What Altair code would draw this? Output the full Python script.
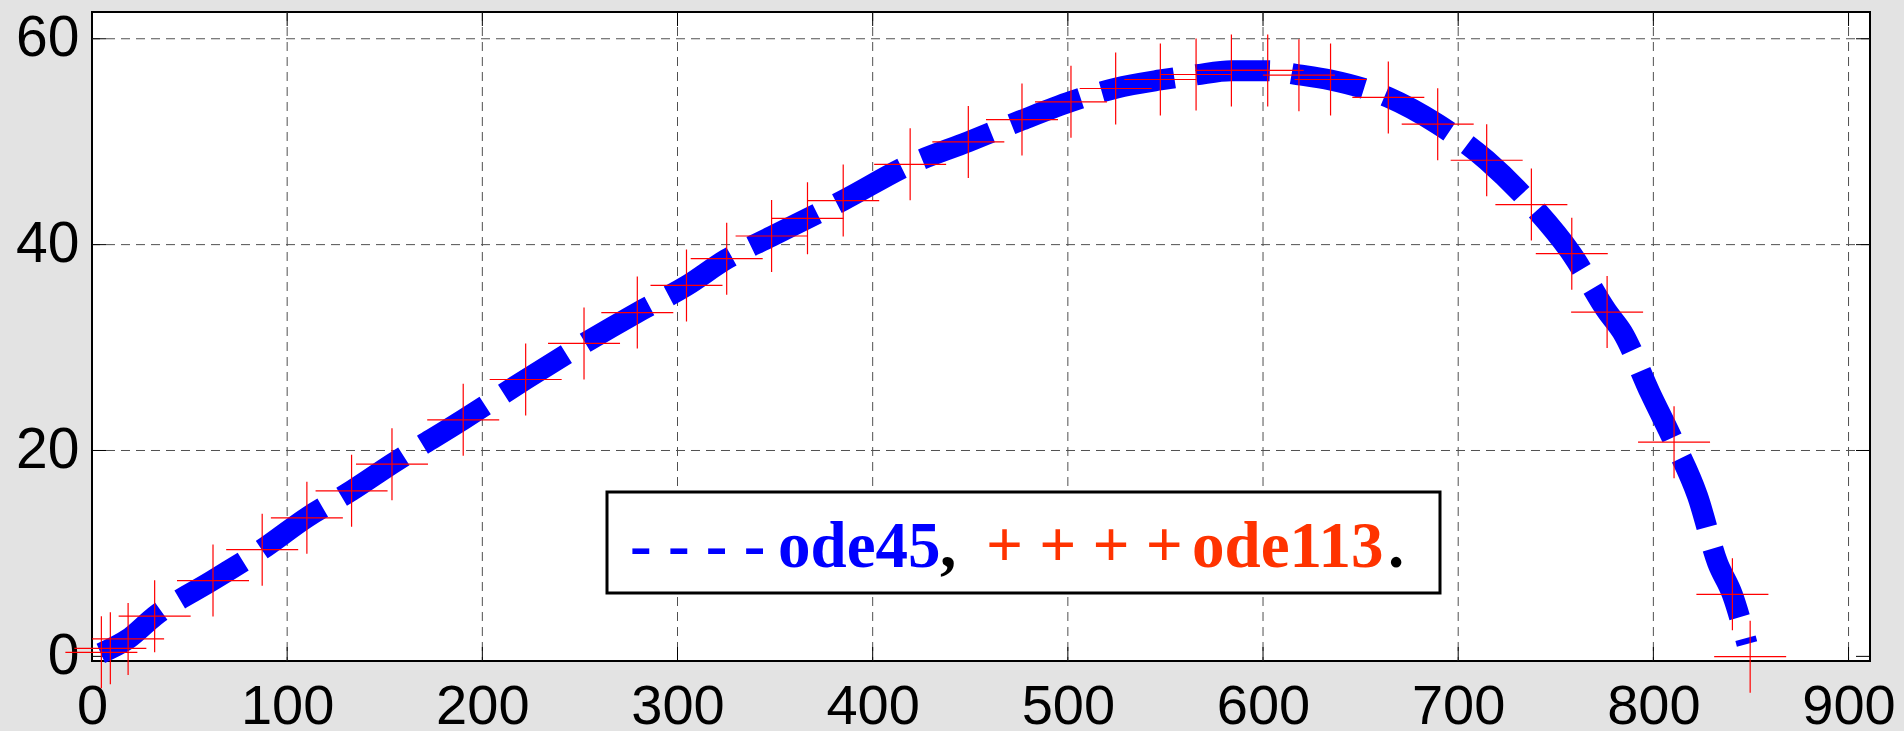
import altair as alt
import pandas as pd

# ---- data ----
ode113_x = [4.8, 9.4, 18.5, 32.1, 62.0, 87.2, 110.1, 133.0, 153.7, 190.2,
            222.2, 252.1, 279.4, 304.6, 325.2, 348.2, 366.6, 384.9, 419.2, 449.0,
            476.5, 501.6, 524.5, 547.4, 565.7, 583.8, 602.4, 618.4, 634.6, 664.2,
            689.5, 714.6, 737.5, 758.2, 776.3, 810.6, 840.5, 849.6]
ode113_y = [0.39, 0.78, 1.69, 3.9, 7.36, 10.37, 13.46, 16.08, 18.67, 22.98,
            26.9, 30.4, 33.4, 36.04, 38.64, 40.84, 42.56, 44.28, 47.8, 49.98,
            52.15, 53.87, 55.17, 56.04, 56.53, 56.92, 56.92, 56.46, 56.04, 54.3,
            51.7, 48.2, 43.89, 39.12, 33.45, 20.81, 6.03, -0.03]

ode45_x = [4.5, 18.5, 32.1, 62.0, 87.2, 110.1, 133.0, 153.7, 190.2, 222.2,
           252.1, 279.4, 304.6, 325.2, 348.2, 384.9, 419.2, 449.0, 476.5, 501.6,
           524.5, 547.4, 565.7, 583.8, 602.4, 618.4, 634.6, 664.2, 689.5, 714.6,
           737.5, 758.2, 776.3, 784.1, 798.6, 810.6, 822.6, 832.9, 840.5, 848.0]
ode45_y = [0.3, 1.69, 3.9, 7.4, 10.4, 13.5, 16.1, 18.7, 23.0, 26.9,
           30.4, 33.4, 36.0, 38.6, 40.8, 44.3, 47.8, 50.0, 52.1, 53.9,
           55.2, 56.0, 56.5, 56.9, 56.9, 56.5, 56.0, 54.3, 51.7, 48.2,
           43.9, 39.1, 33.5, 31.5, 25.5, 20.8, 15.6, 9.1, 6.0, 1.2]

x_ticks = [0, 100, 200, 300, 400, 500, 600, 700, 800, 900]
y_ticks = [0, 20, 40, 60]
x_grid = [100, 200, 300, 400, 500, 600, 700, 800, 900]
y_grid = [20, 40, 60]
legend_parts = ["- - - -", "ode45", ",", "+ + + +", "ode113", "."]

# ---- layout ----
W, H = 1778, 649
xs = alt.Scale(domain=[0, 911], nice=False, zero=False)
ys = alt.Scale(domain=[-0.45, 62.6], nice=False, zero=False)

xaxis = alt.Axis(
    values=x_ticks, grid=False, domain=False, ticks=False, title=None,
    labelFont="Liberation Sans", labelFontSize=56, labelColor="black",
    labelPadding=18, labelFlush=False, labelOverlap=False, labelBound=False)
yaxis = alt.Axis(
    values=y_ticks, grid=False, domain=False, ticks=False, title=None,
    labelFont="Liberation Sans", labelFontSize=57, labelColor="black",
    labelPadding=13, labelFlush=False, labelOverlap=False, labelBound=False)

df113 = pd.DataFrame({"x": ode113_x, "y": ode113_y})
df45 = pd.DataFrame({"x": ode45_x, "y": ode45_y, "o": list(range(len(ode45_x)))})
dxg = pd.DataFrame({"x": x_grid})
dyg = pd.DataFrame({"y": y_grid})
dxt = pd.DataFrame({"x": x_ticks})
dyt = pd.DataFrame({"y": y_ticks})

grid_col = "#505050"
xgrid = alt.Chart(dxg).mark_rule(color=grid_col, strokeDash=[9, 6], strokeWidth=1).encode(
    x=alt.X("x:Q", scale=xs, axis=xaxis))
ygrid = alt.Chart(dyg).mark_rule(color=grid_col, strokeDash=[9, 6], strokeWidth=1).encode(
    y=alt.Y("y:Q", scale=ys, axis=yaxis))

TL = 14
xt_bot = alt.Chart(dxt).mark_rule(color="black", strokeWidth=1).encode(
    x=alt.X("x:Q", scale=xs, axis=xaxis), y=alt.value(H), y2=alt.value(H - TL))
xt_top = alt.Chart(dxt).mark_rule(color="black", strokeWidth=1).encode(
    x=alt.X("x:Q", scale=xs, axis=xaxis), y=alt.value(0), y2=alt.value(TL))
yt_left = alt.Chart(dyt).mark_rule(color="black", strokeWidth=1).encode(
    y=alt.Y("y:Q", scale=ys, axis=yaxis), x=alt.value(0), x2=alt.value(TL))
yt_right = alt.Chart(dyt).mark_rule(color="black", strokeWidth=1).encode(
    y=alt.Y("y:Q", scale=ys, axis=yaxis), x=alt.value(W - TL), x2=alt.value(W))

line45 = alt.Chart(df45).mark_line(
    color="#0000ff", strokeWidth=21, strokeDash=[74, 22], strokeCap="butt",
    interpolate="monotone"
).encode(
    x=alt.X("x:Q", scale=xs, axis=xaxis),
    y=alt.Y("y:Q", scale=ys, axis=yaxis),
    order="o:Q",
)

pts113 = alt.Chart(df113).mark_point(
    shape="M-1,0L1,0M0,-1L0,1", size=5184, filled=False,
    color="#ff0000", strokeWidth=1.2, opacity=1
).encode(
    x=alt.X("x:Q", scale=xs, axis=xaxis),
    y=alt.Y("y:Q", scale=ys, axis=yaxis),
)

# legend box drawn as marks
box = alt.Chart(pd.DataFrame({"k": [0]})).mark_rect(
    fill="white", stroke="black", strokeWidth=3
).encode(x=alt.value(515), x2=alt.value(1348), y=alt.value(480), y2=alt.value(581))

leg_x = [538, 686, 848, 894, 1100, 1296]
leg_col = ["#0000ff", "#0000ff", "black", "#ff3300", "#ff3300", "black"]
texts = []
for t, px, c in zip(legend_parts, leg_x, leg_col):
    texts.append(
        alt.Chart(pd.DataFrame({"t": [t]})).mark_text(
            align="left", baseline="alphabetic", font="Liberation Serif",
            fontWeight="bold", fontSize=65, color=c
        ).encode(text="t:N", x=alt.value(px), y=alt.value(555))
    )

chart = alt.layer(
    xgrid, ygrid, xt_bot, xt_top, yt_left, yt_right, line45, pts113, box, *texts
).properties(
    width=W, height=H,
    padding={"left": 92, "top": 12, "right": 34, "bottom": 70},
    autosize=alt.AutoSizeParams(type="none"),
    background="#e3e3e3",
).configure_view(
    fill="white", stroke="black", strokeWidth=2
)

chart.save("out.html", embed_options={"renderer": "svg", "actions": False})
